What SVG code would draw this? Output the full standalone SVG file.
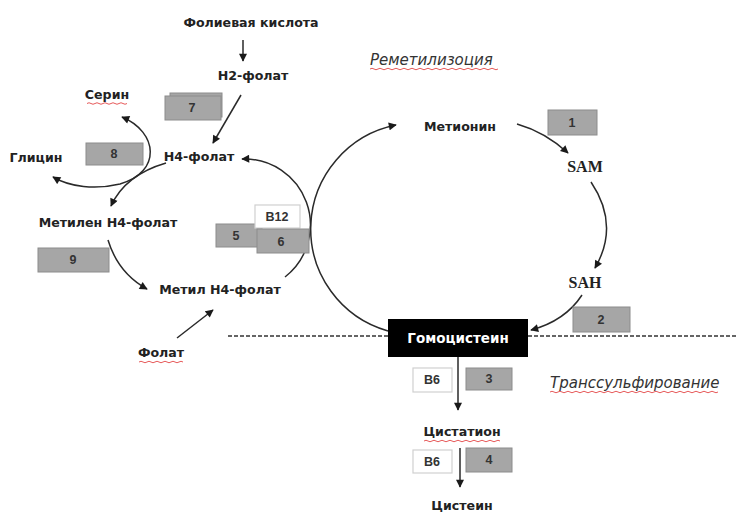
<svg xmlns="http://www.w3.org/2000/svg" width="738" height="515" viewBox="0 0 738 515">
<style>
.t{font-family:"DejaVu Sans","Liberation Sans",sans-serif;font-weight:bold;font-size:12.6px;fill:#222;text-anchor:middle}
.s{font-family:"Liberation Serif",serif;font-weight:bold;font-size:16px;fill:#222;text-anchor:middle}
.i{font-family:"DejaVu Sans","Liberation Sans",sans-serif;font-style:italic;font-size:15px;fill:#333}
.n{font-family:"Liberation Sans",sans-serif;font-weight:bold;font-size:12.5px;fill:#333;text-anchor:middle}
.g{fill:#a6a6a6;stroke:#8c8c8c;stroke-width:1}
.w{fill:#fff;stroke:#d0d0d0;stroke-width:1.2}
.c{fill:none;stroke:#2a2a2a;stroke-width:1.5}
.u{fill:none;stroke:#e03030;stroke-width:0.8}
</style>
<defs>
<marker id="a" viewBox="0 0 10 10" refX="9" refY="5" markerWidth="9" markerHeight="8" markerUnits="userSpaceOnUse" orient="auto-start-reverse">
<path d="M0 0 L10 5 L0 10 Z" fill="#1a1a1a"/>
</marker>
</defs>
<rect width="738" height="515" fill="#fff"/>

<g id="connectors">
<line class="c" x1="243" y1="40" x2="243" y2="61" marker-end="url(#a)"/>
<line class="c" x1="241" y1="95" x2="213" y2="143" marker-end="url(#a)"/>
<path class="c" d="M122 117 C158 132 162 172 120 184 C95 190 70 187 53 177" marker-start="url(#a)" marker-end="url(#a)"/>
<path class="c" d="M166 163 Q125 175 111 206" marker-end="url(#a)"/>
<path class="c" d="M108 240 Q118 273 147 289" marker-end="url(#a)"/>
<path class="c" d="M285 277 A66 66 0 0 0 242 159" marker-end="url(#a)"/>
<line class="c" x1="177" y1="338" x2="213" y2="310" marker-end="url(#a)"/>
<path class="c" d="M388 331 A106 106 0 0 1 396 125" marker-end="url(#a)"/>
<path class="c" d="M517 124 Q545 132 568 153" marker-end="url(#a)"/>
<path class="c" d="M591 182 Q620 225 595 268" marker-end="url(#a)"/>
<path class="c" d="M582 295 Q565 321 531 330" marker-end="url(#a)"/>
<line x1="228" y1="336" x2="738" y2="336" stroke="#333" stroke-width="1.5" stroke-dasharray="4 2"/>
<line class="c" x1="458" y1="357" x2="458" y2="410" marker-end="url(#a)"/>
<line class="c" x1="460" y1="448" x2="460" y2="487" marker-end="url(#a)"/>
</g>

<g id="folic-acid"><text class="t" x="251" y="27">Фолиевая кислота</text></g>
<g id="h2-folate"><text class="t" x="253" y="80">Н2-фолат</text></g>
<g id="serine"><text class="t" x="107" y="99">Серин</text><path class="u" d="M87 103.5 q2 -1.5 4 0 t4 0 t4 0 t4 0 t4 0 t4 0 t4 0 t4 0 t4 0 t4 0"/></g>
<g id="enzyme-7"><rect class="g" x="170" y="93" width="52" height="24"/><rect class="g" x="165" y="96" width="56" height="24"/><text class="n" x="192" y="112">7</text></g>
<g id="glycine"><text class="t" x="36" y="162">Глицин</text></g>
<g id="enzyme-8"><rect class="g" x="86" y="143" width="57" height="22"/><text class="n" x="114" y="158">8</text></g>
<g id="h4-folate"><text class="t" x="199" y="161">Н4-фолат</text></g>
<g id="methylene-h4"><text class="t" x="108" y="227">Метилен Н4-фолат</text></g>
<g id="enzyme-9"><rect class="g" x="38" y="248" width="71" height="24"/><text class="n" x="73" y="264">9</text></g>
<g id="methyl-h4"><text class="t" x="220" y="294">Метил Н4-фолат</text></g>
<g id="folate"><text class="t" x="161" y="357">Фолат</text><path class="u" d="M139 362 q2 -1.5 4 0 t4 0 t4 0 t4 0 t4 0 t4 0 t4 0 t4 0 t4 0 t4 0 t4 0"/></g>
<g id="enzyme-5"><rect class="g" x="216" y="224" width="46" height="23"/><text class="n" x="236" y="240">5</text></g>
<g id="b12"><rect class="w" x="255" y="205" width="45" height="23"/><text class="n" x="277" y="221">B12</text></g>
<g id="enzyme-6"><rect class="g" x="257" y="229" width="52" height="24"/><text class="n" x="281" y="246">6</text></g>

<g id="remethylation"><text class="i" x="370" y="65">Реметилизоция</text><path class="u" d="M370 69 q2 -1.5 4 0 t4 0 t4 0 t4 0 t4 0 t4 0 t4 0 t4 0 t4 0 t4 0 t4 0 t4 0 t4 0 t4 0 t4 0 t4 0 t4 0 t4 0 t4 0 t4 0 t4 0 t4 0 t4 0 t4 0 t4 0 t4 0 t4 0 t4 0 t4 0 t4 0 t4 0 t4 0"/></g>
<g id="methionine"><text class="t" x="460" y="131">Метионин</text></g>
<g id="enzyme-1"><rect class="g" x="548" y="110" width="49" height="25"/><text class="n" x="572" y="127">1</text></g>
<g id="sam"><text class="s" x="585" y="172">SAM</text></g>
<g id="sah"><text class="s" x="585" y="288">SAH</text></g>
<g id="enzyme-2"><rect class="g" x="573" y="307" width="57" height="25"/><text class="n" x="601" y="324">2</text></g>
<g id="homocysteine"><rect x="388" y="319" width="140" height="38" fill="#000"/><text class="t" x="458" y="343" style="fill:#fff;font-size:13.5px">Гомоцистеин</text></g>

<g id="b6-1"><rect class="w" x="413" y="368" width="39" height="24"/><text class="n" x="432" y="384">B6</text></g>
<g id="enzyme-3"><rect class="g" x="466" y="368" width="46" height="22"/><text class="n" x="489" y="383">3</text></g>
<g id="transsulfuration"><text class="i" x="550" y="388">Транссульфирование</text><path class="u" d="M550 392 q2 -1.5 4 0 t4 0 t4 0 t4 0 t4 0 t4 0 t4 0 t4 0 t4 0 t4 0 t4 0 t4 0 t4 0 t4 0 t4 0 t4 0 t4 0 t4 0 t4 0 t4 0 t4 0 t4 0 t4 0 t4 0 t4 0 t4 0 t4 0 t4 0 t4 0 t4 0 t4 0 t4 0 t4 0 t4 0 t4 0 t4 0 t4 0 t4 0 t4 0 t4 0 t4 0 t4 0"/></g>
<g id="cystathionine"><text class="t" x="462" y="436">Цистатион</text><path class="u" d="M424 441 q2 -1.5 4 0 t4 0 t4 0 t4 0 t4 0 t4 0 t4 0 t4 0 t4 0 t4 0 t4 0 t4 0 t4 0 t4 0 t4 0 t4 0 t4 0 t4 0 t4 0"/></g>
<g id="b6-2"><rect class="w" x="413" y="450" width="39" height="23"/><text class="n" x="432" y="466">B6</text></g>
<g id="enzyme-4"><rect class="g" x="466" y="448" width="46" height="24"/><text class="n" x="489" y="464">4</text></g>
<g id="cysteine"><text class="t" x="462" y="510">Цистеин</text></g>
</svg>
